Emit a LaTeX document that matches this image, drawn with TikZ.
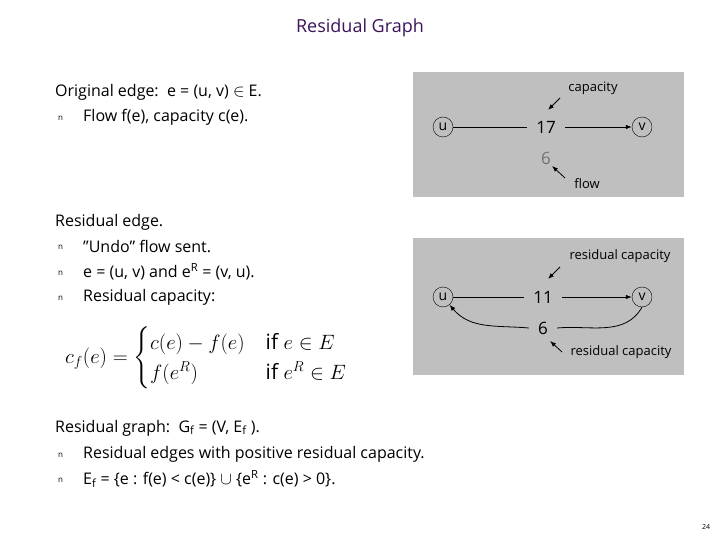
\documentclass[tikz,border=0pt]{standalone}
\usepackage{fontspec}
\setmainfont{Open Sans}
\usepackage{amsmath}
\usetikzlibrary{arrows.meta}
\begin{document}
\begin{tikzpicture}[x=1pt,y=-1pt,
  txt/.style={anchor=west,inner sep=0,font=\fontsize{16}{19}\selectfont},
  bul/.style={anchor=west,inner sep=0,font=\fontsize{8}{9}\selectfont},
  vtx/.style={circle,draw,inner sep=0,minimum size=20pt,font=\fontsize{14}{16}\selectfont},
  num/.style={inner sep=9pt,font=\fontsize{17}{20}\selectfont},
  lab/.style={inner sep=0,font=\fontsize{13}{15}\selectfont},
  panel/.style={fill=black!25,draw=none},
  arr/.style={-{Latex[length=6pt]},thick}]
\useasboundingbox (0,0) rectangle (720,540);
\node[font=\fontsize{18}{21}\selectfont,text={rgb,255:red,60;green,20;blue,90}] (title) at (360,28) {Residual Graph};
% left text
\node[txt] (t1) at (55,92) {Original edge:\ \ e = (u, v) $\in$ E.};
\node[bul] (b1) at (58,118) {n}; \node[txt] (t2) at (83,117) {Flow f(e), capacity c(e).};
\node[txt] (t3) at (55,222) {Residual edge.};
\node[bul] (b2) at (58,247) {n}; \node[txt] (t4) at (83,246) {"Undo" flow sent.};
\node[bul] (b3) at (58,273) {n}; \node[txt] (t5) at (83,272) {e = (u, v) and e$^{\text{R}}$ = (v, u).};
\node[bul] (b4) at (58,298) {n}; \node[txt] (t6) at (83,297) {Residual capacity:};
\node[anchor=west,inner sep=0,font=\fontsize{21}{25}\selectfont] (f) at (65,358)
 {$c_f(e)=\begin{cases}c(e)-f(e) & \text{if } e\in E\\ f(e^R) & \text{if } e^R\in E\end{cases}$};
\node[txt] (t7) at (55,428) {Residual graph:\ \ G$_\text{f}$ = (V, E$_\text{f}$ ).};
\node[bul] (b5) at (58,455) {n}; \node[txt] (t8) at (83,454) {Residual edges with positive residual capacity.};
\node[bul] (b6) at (58,480) {n}; \node[txt] (t9) at (83,479) {E$_\text{f}$ = \{e : f(e) < c(e)\} $\cup$ \{e$^\text{R}$ : c(e) > 0\}.};
\node[font=\fontsize{7}{8}\selectfont] (pg) at (706,527) {24};
% top panel
\fill[panel] (413,72) rectangle (684,197);
\node[vtx] (u1) at (443,127) {u};
\node[vtx] (v1) at (642,127) {v};
\node[num] (c1) at (546,127) {17};
\node[num,text=black!55] (f1) at (546,158) {6};
\node[lab] (cap1) at (593,88) {capacity};
\node[lab] (fl1) at (587,184) {flow};
\draw[thick] (u1) -- (c1);
\draw[arr] (c1) -- (v1);
\coordinate (a1) at (560,98); \coordinate (a2) at (548,110);
\draw[arr] (a1) -- (a2);
\coordinate (a3) at (565,178); \coordinate (a4) at (552,166);
\draw[arr] (a3) -- (a4);
% bottom panel
\fill[panel] (413,238) rectangle (684,375);
\node[vtx] (u2) at (443,297) {u};
\node[vtx] (v2) at (642,297) {v};
\node[num] (c2) at (543,297) {11};
\node[num] (f2) at (543,328) {6};
\node[lab] (cap2) at (620,256) {residual capacity};
\node[lab] (cap3) at (621,352) {residual capacity};
\draw[thick] (u2) -- (c2);
\draw[arr] (c2) -- (v2);
\draw[thick] (v2.south) to[out=-120,in=5] (f2.east);
\draw[arr] (f2.west) to[out=175,in=-50] (u2);
\coordinate (a5) at (560,267); \coordinate (a6) at (548,279);
\draw[arr] (a5) -- (a6);
\coordinate (a7) at (562,352); \coordinate (a8) at (550,341);
\draw[arr] (a7) -- (a8);
\end{tikzpicture}
\end{document}
